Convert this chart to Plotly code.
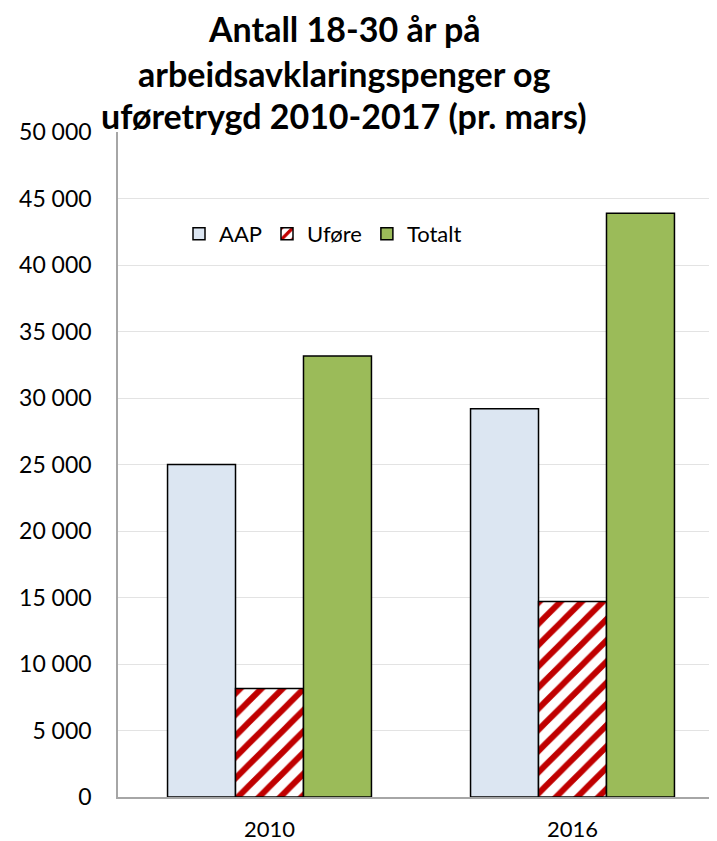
import plotly.graph_objects as go

categories = ["2010", "2016"]
aap = [25000, 29200]
ufore = [8150, 14700]
totalt = [33150, 43900]
series_names = ["AAP", "Uføre", "Totalt"]
title_lines = ["Antall 18-30 år på", "arbeidsavklaringspenger og", "uføretrygd 2010-2017 (pr. mars)"]
y_ticks = list(range(0, 50001, 5000))
y_tick_text = ["{:,}".format(v).replace(",", " ") for v in y_ticks]

FONT = "Lato"
OFF = 8  # page body margin
W, H = 717 - OFF, 841 - OFF
L, R, T, B = 118 - OFF, 0, 132 - OFF, 44

fig = go.Figure()
fig.add_trace(go.Bar(
    name=series_names[0], x=categories, y=aap,
    marker=dict(color="#DCE6F2", line=dict(color="#000000", width=1.5)),
))
fig.add_trace(go.Bar(
    name=series_names[1], x=categories, y=ufore,
    marker=dict(color="#FFFFFF", line=dict(color="#000000", width=1.5),
                pattern=dict(shape="/", fgcolor="#C00000", bgcolor="#FFFFFF",
                             size=15, solidity=0.4, fillmode="replace")),
))
fig.add_trace(go.Bar(
    name=series_names[2], x=categories, y=totalt,
    marker=dict(color="#9BBB59", line=dict(color="#000000", width=1.5)),
))

plot_w = W - L - R
plot_h = H - T - B
span = plot_w / 303.0


def px_to_paper_x(px):
    return (px - OFF - L) / plot_w


def px_to_paper_y(py):
    return (H - B - (py - OFF)) / plot_h


for i, line in enumerate(title_lines):
    ypix = [29, 73, 116][i]
    fig.add_annotation(
        text="<b>" + line + "</b>", showarrow=False,
        xref="paper", yref="paper",
        x=px_to_paper_x(344), y=px_to_paper_y(ypix),
        xanchor="center", yanchor="middle",
        font=dict(family=FONT, size=34, color="#000000"),
    )

fig.update_layout(
    width=W, height=H,
    margin=dict(l=L, r=R, t=T, b=B, pad=0),
    paper_bgcolor="#FFFFFF", plot_bgcolor="#FFFFFF",
    barmode="group", bargap=0.327, bargroupgap=0,
    font=dict(family=FONT, size=22, color="#000000"),
    showlegend=True,
    legend=dict(
        orientation="h", x=px_to_paper_x(179), y=px_to_paper_y(234),
        xanchor="left", yanchor="middle",
        font=dict(family=FONT, size=22, color="#000000"),
        bgcolor="rgba(0,0,0,0)", itemwidth=30, tracegroupgap=0,
    ),
    xaxis=dict(
        range=[-0.5, -0.5 + span], showgrid=False,
        showline=True, linecolor="#A6A6A6", linewidth=1.5,
        ticks="", ticklabelstandoff=12,
        tickfont=dict(family=FONT, size=22, color="#000000"),
        zeroline=False,
    ),
    yaxis=dict(
        range=[0, 50000], tickvals=y_ticks, ticktext=y_tick_text,
        showgrid=True, gridcolor="#E3E3E3", gridwidth=1,
        showline=True, linecolor="#A6A6A6", linewidth=1.5,
        ticks="", ticklabelstandoff=20,
        tickfont=dict(family=FONT, size=23, color="#000000"),
        zeroline=False,
    ),
)

fig.write_html("out.html")
